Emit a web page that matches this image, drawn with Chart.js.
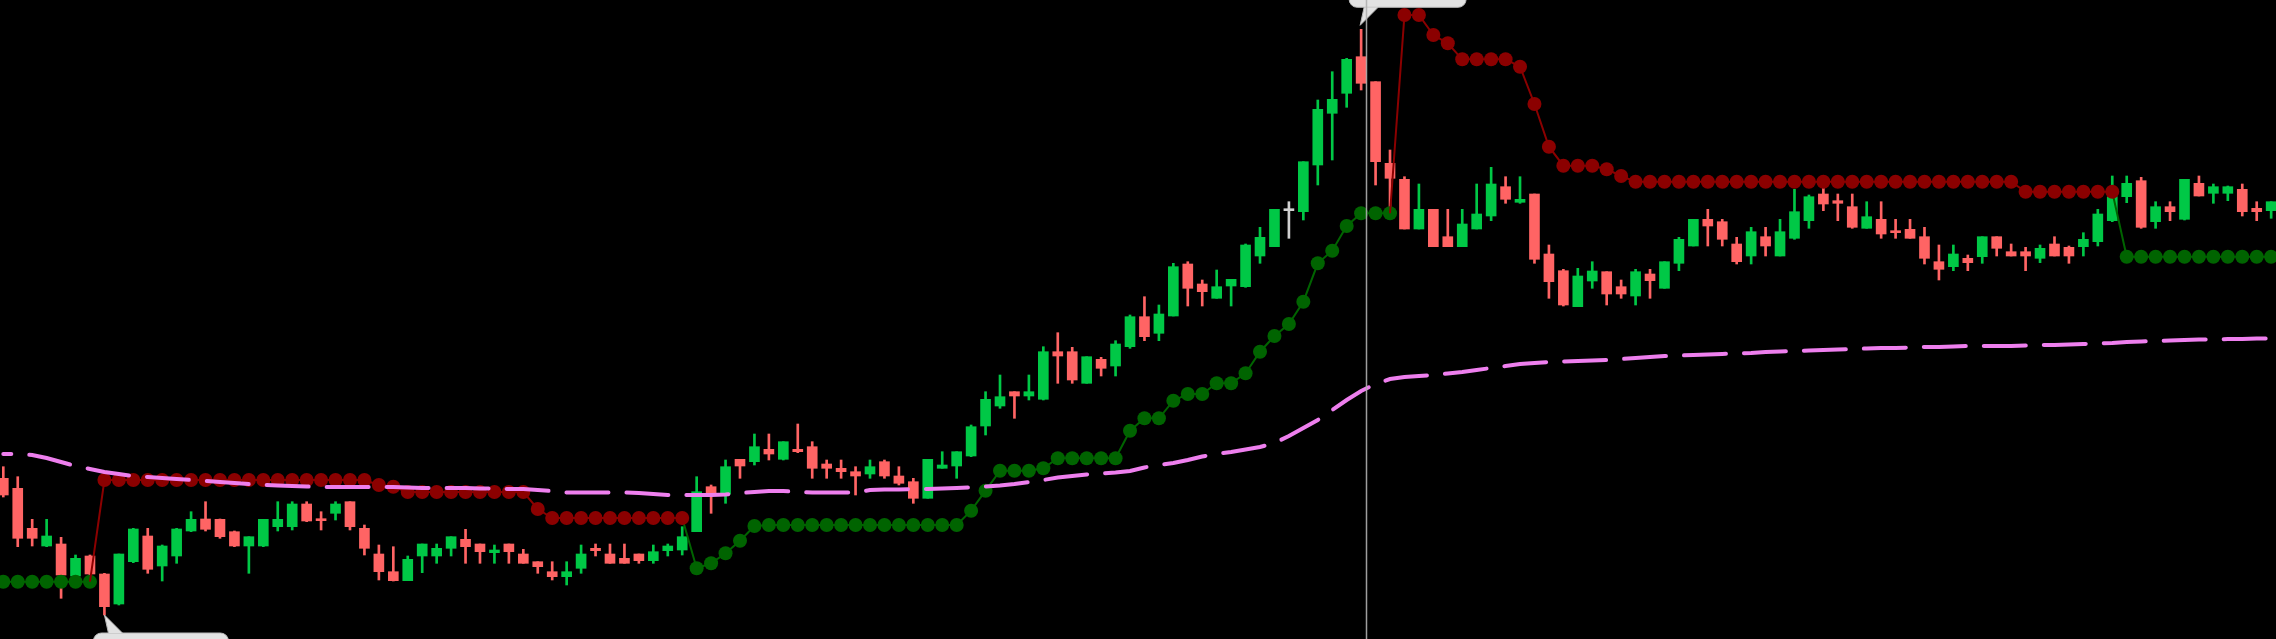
<!DOCTYPE html>
<html>
<head>
<meta charset="utf-8">
<title>Price chart</title>
<script src="https://cdn.jsdelivr.net/npm/chart.js"></script>
<style>
  html, body { margin: 0; padding: 0; background: #000; overflow: hidden; }
  canvas { display: block; }
</style>
</head>
<body>
<canvas id="priceChart" width="2276" height="639"></canvas>
<script>
// one entry per candle, left to right
const opens = [
  16.07, 15.07, 11.07, 9.30, 9.50, 6.30, 8.30, 6.50, 3.50, 7.73,
  10.30, 7.30, 8.30, 10.80, 12.00, 11.97, 10.73, 9.30, 9.30, 11.23,
  11.23, 13.50, 12.00, 12.57, 13.73, 11.07, 8.50, 6.73, 5.83, 8.30,
  8.30, 9.07, 9.97, 9.50, 8.63, 9.50, 8.50, 7.73, 6.73, 6.23,
  7.07, 9.07, 8.50, 8.07, 8.50, 7.83, 8.83, 8.90, 10.73, 15.23,
  14.50, 17.97, 17.73, 18.97, 17.97, 18.97, 19.23, 17.50, 17.07, 16.73,
  16.50, 17.73, 16.30, 15.73, 14.07, 17.07, 17.30, 18.30, 21.30, 23.30,
  24.73, 24.30, 23.97, 28.73, 28.73, 25.57, 27.97, 27.30, 29.23, 32.23,
  30.57, 32.30, 37.50, 35.50, 34.07, 35.30, 35.23, 38.30, 39.23, 42.83,
  42.73, 47.40, 52.57, 54.57, 58.23, 55.73, 47.57, 45.97, 41.00, 42.97,
  40.23, 39.23, 41.00, 42.30, 45.23, 43.67, 44.50, 38.50, 36.83, 33.23,
  35.80, 36.73, 35.23, 34.30, 36.50, 35.07, 37.57, 39.30, 41.97, 41.73,
  39.50, 38.30, 40.23, 38.30, 40.07, 41.83, 44.50, 43.83, 43.23, 41.07,
  41.97, 40.83, 40.97, 40.23, 37.73, 37.23, 38.07, 38.23, 40.23, 38.73,
  38.73, 38.07, 39.50, 39.17, 39.23, 39.73, 41.83, 44.23, 45.83, 41.73,
  43.23, 41.97, 45.57, 44.57, 44.57, 44.97, 43.07, 42.83
]
const highs = [
  17.23, 16.23, 11.97, 11.97, 10.17, 8.40, 8.40, 6.57, 8.50, 11.07,
  11.07, 9.40, 11.07, 12.73, 13.73, 12.00, 10.80, 10.23, 11.97, 13.73,
  13.73, 13.73, 12.73, 13.73, 13.73, 11.40, 9.40, 9.23, 8.30, 9.50,
  9.50, 10.23, 10.97, 9.50, 9.40, 9.50, 8.97, 7.73, 7.73, 7.73,
  9.40, 9.50, 9.50, 9.50, 8.50, 9.40, 9.50, 11.23, 16.23, 15.40,
  17.90, 17.97, 20.50, 20.50, 19.73, 21.50, 19.73, 17.90, 17.90, 17.23,
  17.90, 17.90, 17.23, 16.07, 17.97, 18.73, 18.73, 21.40, 24.73, 26.40,
  24.73, 26.40, 29.23, 30.63, 29.17, 28.23, 28.17, 29.83, 32.40, 34.23,
  33.40, 37.57, 37.73, 35.90, 36.90, 35.97, 39.50, 41.17, 42.97, 43.73,
  47.73, 53.90, 56.73, 58.07, 60.97, 55.73, 48.90, 46.23, 45.50, 42.97,
  42.97, 42.97, 45.50, 47.17, 46.23, 46.23, 44.50, 39.40, 36.97, 37.07,
  37.73, 36.73, 35.90, 36.97, 36.97, 37.73, 40.17, 41.97, 42.97, 41.97,
  40.17, 41.17, 41.17, 41.97, 44.97, 44.40, 45.07, 44.50, 44.50, 43.73,
  43.73, 41.97, 41.97, 41.17, 39.40, 39.40, 38.40, 40.23, 40.23, 39.50,
  39.17, 39.40, 40.23, 39.30, 40.63, 42.97, 46.30, 46.30, 46.17, 43.73,
  43.73, 45.97, 46.30, 45.50, 45.30, 45.50, 43.73, 43.73
]
const lows = [
  14.20, 9.23, 9.30, 9.23, 4.07, 6.23, 6.40, 2.40, 3.40, 7.63,
  6.57, 5.80, 7.57, 10.73, 10.80, 10.07, 9.23, 6.57, 9.23, 10.80,
  10.90, 11.73, 10.90, 11.90, 10.90, 8.40, 5.90, 5.80, 5.83, 6.63,
  7.57, 8.30, 7.57, 7.57, 7.57, 7.57, 7.57, 6.57, 5.90, 5.40,
  6.57, 8.30, 7.57, 7.57, 7.57, 7.57, 8.30, 8.40, 10.73, 12.57,
  13.57, 16.07, 17.40, 17.90, 17.90, 18.63, 16.07, 16.07, 16.07, 14.40,
  16.07, 16.07, 15.40, 13.57, 14.07, 17.07, 16.07, 18.23, 20.40, 23.07,
  22.07, 23.90, 23.90, 25.57, 25.57, 25.57, 26.30, 26.30, 29.07, 29.83,
  29.83, 32.30, 33.30, 33.30, 34.07, 33.30, 35.17, 37.57, 39.23, 40.07,
  41.90, 45.40, 47.90, 53.17, 54.90, 45.40, 43.23, 41.00, 41.00, 39.23,
  39.23, 39.23, 41.00, 41.83, 43.57, 43.57, 37.57, 34.07, 33.30, 33.23,
  35.07, 33.40, 34.07, 33.40, 34.07, 35.07, 36.83, 39.30, 39.30, 39.30,
  37.50, 37.50, 38.30, 38.30, 39.97, 41.07, 42.83, 41.83, 41.07, 41.07,
  40.07, 40.07, 40.07, 37.50, 35.90, 36.83, 36.83, 37.57, 38.30, 38.30,
  36.83, 37.63, 38.30, 37.57, 38.30, 39.30, 41.73, 43.63, 41.07, 41.07,
  41.83, 41.90, 44.30, 43.57, 43.83, 42.30, 41.83, 42.07
]
const closes = [
  14.40, 10.07, 10.07, 10.30, 6.40, 8.07, 6.50, 3.23, 8.50, 11.00,
  6.97, 9.30, 11.00, 11.97, 10.97, 10.23, 9.30, 10.23, 11.97, 11.97,
  13.50, 11.80, 11.83, 13.50, 11.23, 9.07, 6.73, 5.83, 7.97, 9.50,
  9.07, 10.23, 9.23, 8.73, 8.90, 8.73, 7.57, 7.23, 6.23, 6.73,
  8.50, 8.83, 7.57, 7.57, 7.83, 8.73, 9.30, 10.23, 14.73, 14.50,
  17.23, 17.30, 19.23, 18.50, 19.73, 18.73, 17.07, 17.07, 16.73, 16.30,
  17.23, 16.30, 15.57, 14.07, 17.97, 17.40, 18.73, 21.23, 23.97, 24.23,
  24.30, 24.73, 28.73, 28.30, 25.90, 28.23, 27.07, 29.50, 32.23, 30.23,
  32.50, 37.23, 35.07, 34.73, 35.23, 35.97, 39.40, 40.17, 42.97, 42.83,
  47.73, 52.97, 53.97, 57.97, 55.57, 47.73, 46.07, 41.00, 42.97, 39.23,
  39.23, 41.50, 42.50, 45.50, 43.97, 43.97, 37.97, 35.73, 33.40, 36.30,
  36.80, 34.50, 34.50, 36.73, 35.83, 37.73, 39.97, 41.97, 41.30, 39.97,
  37.73, 40.73, 39.30, 40.73, 42.73, 44.23, 43.50, 43.57, 41.17, 42.23,
  40.50, 40.63, 40.07, 38.07, 36.97, 38.50, 37.63, 40.23, 39.07, 38.30,
  38.30, 39.07, 38.30, 38.30, 39.97, 42.50, 44.23, 45.57, 41.17, 43.23,
  42.73, 45.97, 44.30, 45.23, 45.23, 42.73, 42.73, 43.73
]

// trailing stop: upper (red) while falling, lower (green) while rising
const upperBand = [
  null, null, null, null, null, null, 5.73, 15.90, 15.90, 15.90,
  15.90, 15.90, 15.90, 15.90, 15.90, 15.90, 15.90, 15.90, 15.90, 15.90,
  15.90, 15.90, 15.90, 15.90, 15.90, 15.90, 15.40, 15.23, 14.70, 14.70,
  14.70, 14.70, 14.70, 14.70, 14.70, 14.70, 14.70, 13.00, 12.10, 12.10,
  12.10, 12.10, 12.10, 12.10, 12.10, 12.10, 12.10, 12.10, null, null,
  null, null, null, null, null, null, null, null, null, null,
  null, null, null, null, null, null, null, null, null, null,
  null, null, null, null, null, null, null, null, null, null,
  null, null, null, null, null, null, null, null, null, null,
  null, null, null, null, null, null, 42.57, 62.40, 62.40, 60.40,
  59.57, 57.97, 57.97, 57.97, 57.97, 57.23, 53.50, 49.23, 47.33, 47.33,
  47.33, 46.97, 46.30, 45.73, 45.73, 45.73, 45.73, 45.73, 45.73, 45.73,
  45.73, 45.73, 45.73, 45.73, 45.73, 45.73, 45.73, 45.73, 45.73, 45.73,
  45.73, 45.73, 45.73, 45.73, 45.73, 45.73, 45.73, 45.73, 45.73, 45.73,
  44.73, 44.73, 44.73, 44.73, 44.73, 44.73, 44.73, null, null, null,
  null, null, null, null, null, null, null, null
]
const lowerBand = [
  5.73, 5.73, 5.73, 5.73, 5.73, 5.73, 5.73, null, null, null,
  null, null, null, null, null, null, null, null, null, null,
  null, null, null, null, null, null, null, null, null, null,
  null, null, null, null, null, null, null, null, null, null,
  null, null, null, null, null, null, null, 12.10, 7.07, 7.57,
  8.57, 9.83, 11.30, 11.40, 11.40, 11.40, 11.40, 11.40, 11.40, 11.40,
  11.40, 11.40, 11.40, 11.40, 11.40, 11.40, 11.40, 12.83, 14.83, 16.83,
  16.83, 16.83, 17.07, 18.07, 18.07, 18.07, 18.07, 18.07, 20.83, 22.07,
  22.07, 23.83, 24.50, 24.50, 25.57, 25.57, 26.57, 28.73, 30.30, 31.50,
  33.73, 37.57, 38.83, 41.30, 42.57, 42.57, 42.57, null, null, null,
  null, null, null, null, null, null, null, null, null, null,
  null, null, null, null, null, null, null, null, null, null,
  null, null, null, null, null, null, null, null, null, null,
  null, null, null, null, null, null, null, null, null, null,
  null, null, null, null, null, null, 44.73, 38.23, 38.23, 38.23,
  38.23, 38.23, 38.23, 38.23, 38.23, 38.23, 38.23, 38.23
]

// moving average (dashed violet)
const maLine = [
  18.50, 18.50, 18.40, 18.10, 17.70, 17.30, 17.00, 16.70, 16.50, 16.30,
  16.20, 16.10, 16.00, 15.90, 15.80, 15.70, 15.60, 15.50, 15.40, 15.35,
  15.30, 15.25, 15.20, 15.20, 15.20, 15.20, 15.20, 15.20, 15.15, 15.10,
  15.10, 15.10, 15.10, 15.05, 15.05, 15.00, 15.00, 14.90, 14.80, 14.65,
  14.65, 14.65, 14.65, 14.65, 14.60, 14.50, 14.40, 14.40, 14.40, 14.40,
  14.45, 14.60, 14.70, 14.80, 14.80, 14.70, 14.65, 14.65, 14.65, 14.65,
  14.90, 14.95, 14.95, 15.00, 15.00, 15.05, 15.10, 15.15, 15.25, 15.35,
  15.50, 15.70, 15.90, 16.15, 16.30, 16.45, 16.55, 16.65, 16.80, 17.15,
  17.40, 17.60, 17.90, 18.25, 18.50, 18.70, 18.95, 19.20, 19.60, 20.30,
  21.10, 21.90, 22.90, 23.90, 24.80, 25.50, 26.00, 26.20, 26.30, 26.40,
  26.55, 26.70, 26.90, 27.10, 27.30, 27.50, 27.60, 27.70, 27.75, 27.80,
  27.85, 27.90, 28.00, 28.10, 28.20, 28.30, 28.35, 28.40, 28.45, 28.50,
  28.55, 28.60, 28.70, 28.75, 28.80, 28.85, 28.90, 28.95, 29.00, 29.05,
  29.10, 29.10, 29.15, 29.20, 29.20, 29.25, 29.30, 29.30, 29.30, 29.30,
  29.35, 29.40, 29.40, 29.45, 29.50, 29.55, 29.60, 29.70, 29.75, 29.80,
  29.85, 29.90, 29.95, 29.95, 30.00, 30.00, 30.05, 30.05
]

// bar position of the crosshair
const crosshairAt = 94.35

const UP = '#00c846'
const DOWN = '#ff6464'
const FLAT = '#d0d0d0'

const candleColors = opens.map((o, i) =>
  closes[i] > o ? UP : closes[i] < o ? DOWN : FLAT)

const toPoints = (arr) => arr.map((v, i) => ({ x: i, y: v }))

// first point after a gap is only where the switch line starts
function isSwitchStart(arr, i) {
  return i > 0 && arr[i - 1] === null && arr[i] !== null
}

function bubble(ctx, tx, ty, w, dir) {
  const gap = 18, h = 30
  const left = tx - 11
  const edge = ty + dir * gap
  const top = dir < 0 ? edge - h : edge
  ctx.fillStyle = '#e2e2e2'
  ctx.strokeStyle = '#b8b8b8'
  ctx.lineWidth = 1
  ctx.beginPath()
  ctx.roundRect(left, top, w, h, 8)
  ctx.fill()
  ctx.stroke()
  ctx.beginPath()
  ctx.moveTo(tx, ty)
  ctx.lineTo(tx + 4, edge)
  ctx.lineTo(tx + 18, edge)
  ctx.closePath()
  ctx.fill()
  ctx.beginPath()
  ctx.moveTo(tx + 4, edge)
  ctx.lineTo(tx, ty)
  ctx.lineTo(tx + 18, edge)
  ctx.stroke()
}

const overlay = {
  id: 'overlay',
  afterDatasetsDraw(chart) {
    const { ctx, chartArea, scales } = chart
    const x = scales.x, y = scales.y
    ctx.save()

    // labels at the highest high and the lowest low
    const hi = highs.indexOf(Math.max(...highs))
    const lo = lows.indexOf(Math.min(...lows))
    bubble(ctx, x.getPixelForValue(hi) - 1, y.getPixelForValue(highs[hi]) - 4, 117, -1)
    bubble(ctx, x.getPixelForValue(lo), y.getPixelForValue(lows[lo]), 135, 1)

    // crosshair
    const cx = Math.round(x.getPixelForValue(crosshairAt)) + 0.5
    ctx.strokeStyle = 'rgba(175,175,175,0.9)'
    ctx.lineWidth = 1.5
    ctx.beginPath()
    ctx.moveTo(cx, chartArea.top)
    ctx.lineTo(cx, chartArea.bottom)
    ctx.stroke()
    ctx.restore()
  }
}

const ctx = document.getElementById('priceChart').getContext('2d')
const chart = new Chart(ctx, {
  type: 'bar',
  data: {
    datasets: [
      {
        label: 'MA',
        type: 'line',
        data: toPoints(maLine),
        borderColor: '#ee7fee',
        borderWidth: 4,
        borderDash: [42, 18],
        borderDashOffset: 34,
        borderCapStyle: 'round',
        pointRadius: 0,
        order: 0,
      },
      {
        label: 'Stop down',
        type: 'line',
        data: toPoints(upperBand),
        borderColor: '#8b0000',
        backgroundColor: '#8b0000',
        borderWidth: 2,
        pointRadius: (c) => (isSwitchStart(upperBand, c.dataIndex) ? 0 : 7),
        pointBorderWidth: 0,
        order: 1,
      },
      {
        label: 'Stop up',
        type: 'line',
        data: toPoints(lowerBand),
        borderColor: '#006400',
        backgroundColor: '#006400',
        borderWidth: 2,
        pointRadius: (c) => (isSwitchStart(lowerBand, c.dataIndex) ? 0 : 7),
        pointBorderWidth: 0,
        order: 1,
      },
      {
        label: 'Body',
        data: opens.map((o, i) => ({ x: i, y: [o, closes[i]] })),
        backgroundColor: candleColors,
        grouped: false,
        barPercentage: 1,
        categoryPercentage: 1,
        maxBarThickness: 10,
        minBarLength: 2,
        borderWidth: 0,
        order: 2,
      },
      {
        label: 'Wick',
        data: lows.map((l, i) => ({ x: i, y: [l, highs[i]] })),
        backgroundColor: candleColors,
        grouped: false,
        barPercentage: 1,
        categoryPercentage: 1,
        maxBarThickness: 2,
        borderWidth: 0,
        order: 3,
      },
    ],
  },
  options: {
    responsive: false,
    devicePixelRatio: 1,
    animation: false,
    layout: { padding: 0, autoPadding: false },
    plugins: {
      legend: { display: false },
      tooltip: { enabled: false },
    },
    events: [],
    scales: {
      x: {
        type: 'linear',
        display: false,
        offset: false,
        min: -0.2285,
        max: 157.335,
      },
      y: {
        type: 'linear',
        display: false,
        min: 0,
        max: 63.9,
      },
    },
  },
  plugins: [overlay],
})
</script>
</body>
</html>
